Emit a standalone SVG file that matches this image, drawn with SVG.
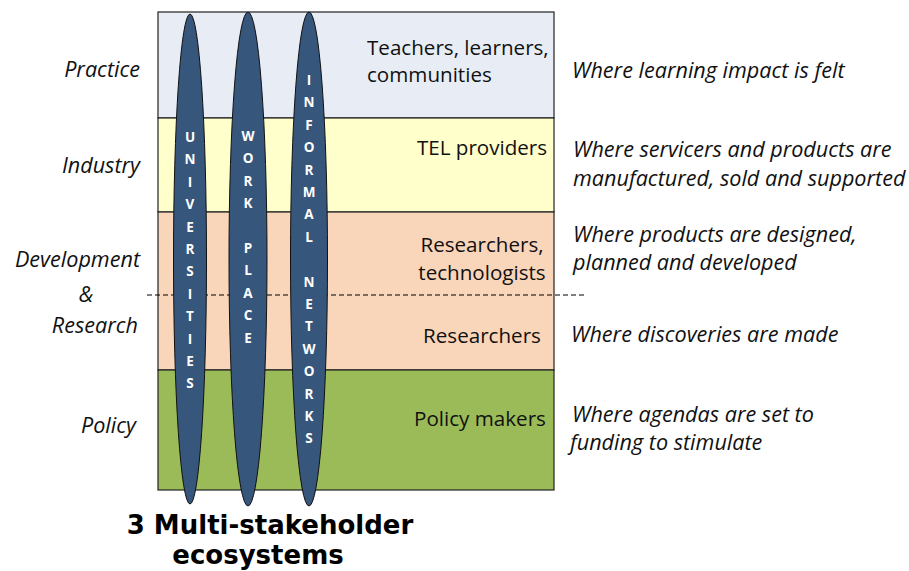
<svg xmlns="http://www.w3.org/2000/svg" width="909" height="571" viewBox="0 0 909 571">
  <style>
    .band { stroke: #222; stroke-width: 1.2; }
    .mid { font-family: "Open Sans", "Liberation Sans", sans-serif; font-size: 20.6px; fill: #111; text-anchor: middle; }
    .lvl { font-family: "Open Sans", "Liberation Sans", sans-serif; font-size: 21.6px; font-style: italic; fill: #111; text-anchor: end; }
    .desc { font-family: "Open Sans", "Liberation Sans", sans-serif; font-size: 21.6px; font-style: italic; fill: #111; }
    .eco { fill: #37567C; stroke: #111; stroke-width: 1; }
    .vl { font-family: "Open Sans", "Liberation Sans", sans-serif; font-size: 13.5px; font-weight: bold; fill: #fff; text-anchor: middle; }
    .title { font-family: "DejaVu Sans", "Verdana", sans-serif; font-size: 26px; font-weight: bold; fill: #000; text-anchor: middle; }
  </style>

  <rect width="909" height="571" fill="#fff"/>

  <!-- horizontal layers -->
  <g id="layer-practice">
    <rect class="band" x="158" y="12" width="396" height="106" fill="#E8ECF5"/>
    <text class="mid" x="367" y="55" style="text-anchor:start">Teachers, learners,</text>
    <text class="mid" x="367" y="82" style="text-anchor:start">communities</text>
  </g>
  <g id="layer-industry">
    <rect class="band" x="158" y="118" width="396" height="94" fill="#FFFFCC"/>
    <text class="mid" x="482" y="155">TEL providers</text>
  </g>
  <g id="layer-research">
    <rect class="band" x="158" y="212" width="396" height="158" fill="#F9D5B9"/>
    <text class="mid" x="482" y="252">Researchers,</text>
    <text class="mid" x="482" y="280">technologists</text>
    <text class="mid" x="482" y="343">Researchers</text>
  </g>
  <g id="layer-policy">
    <rect class="band" x="158" y="370" width="396" height="120" fill="#9BBB59"/>
    <text class="mid" x="480" y="426">Policy makers</text>
  </g>

  <!-- split between development and research -->
  <g id="connectors">
    <line x1="147" y1="295" x2="585" y2="295" stroke="#000" stroke-width="1" stroke-dasharray="5,3"/>
  </g>

  <!-- vertical ecosystems -->
  <g id="eco-universities">
    <ellipse class="eco" cx="190" cy="259" rx="16.5" ry="245"/>
    <text class="vl" x="190" y="142">U</text>
    <text class="vl" x="190" y="164.4">N</text>
    <text class="vl" x="190" y="186.8">I</text>
    <text class="vl" x="190" y="209.2">V</text>
    <text class="vl" x="190" y="231.6">E</text>
    <text class="vl" x="190" y="254">R</text>
    <text class="vl" x="190" y="276.4">S</text>
    <text class="vl" x="190" y="298.8">I</text>
    <text class="vl" x="190" y="321.2">T</text>
    <text class="vl" x="190" y="343.6">I</text>
    <text class="vl" x="190" y="366">E</text>
    <text class="vl" x="190" y="388.4">S</text>
  </g>
  <g id="eco-workplace">
    <ellipse class="eco" cx="248" cy="259" rx="19" ry="247"/>
    <text class="vl" x="248" y="141">W</text>
    <text class="vl" x="248" y="163.4">O</text>
    <text class="vl" x="248" y="185.8">R</text>
    <text class="vl" x="248" y="208.2">K</text>
    <text class="vl" x="248" y="253">P</text>
    <text class="vl" x="248" y="275.4">L</text>
    <text class="vl" x="248" y="297.8">A</text>
    <text class="vl" x="248" y="320.2">C</text>
    <text class="vl" x="248" y="342.6">E</text>
  </g>
  <g id="eco-informal-networks">
    <ellipse class="eco" cx="309" cy="259" rx="18.5" ry="247"/>
    <text class="vl" x="309" y="85">I</text>
    <text class="vl" x="309" y="107.4">N</text>
    <text class="vl" x="309" y="129.8">F</text>
    <text class="vl" x="309" y="152.2">O</text>
    <text class="vl" x="309" y="174.6">R</text>
    <text class="vl" x="309" y="197">M</text>
    <text class="vl" x="309" y="219.4">A</text>
    <text class="vl" x="309" y="241.8">L</text>
    <text class="vl" x="309" y="286.6">N</text>
    <text class="vl" x="309" y="309">E</text>
    <text class="vl" x="309" y="331.4">T</text>
    <text class="vl" x="309" y="353.8">W</text>
    <text class="vl" x="309" y="376.2">O</text>
    <text class="vl" x="309" y="398.6">R</text>
    <text class="vl" x="309" y="421">K</text>
    <text class="vl" x="309" y="443.4">S</text>
  </g>

  <!-- level names -->
  <g id="levels">
    <text class="lvl" x="140" y="77">Practice</text>
    <text class="lvl" x="140" y="173">Industry</text>
    <text class="lvl" x="140" y="267">Development</text>
    <text class="lvl" x="86" y="302" style="text-anchor:middle">&amp;</text>
    <text class="lvl" x="138" y="333">Research</text>
    <text class="lvl" x="136" y="433">Policy</text>
  </g>

  <!-- role of each level -->
  <g id="descriptions">
    <text class="desc" x="572" y="78">Where learning impact is felt</text>
    <text class="desc" x="573" y="157">Where servicers and products are</text>
    <text class="desc" x="573" y="186">manufactured, sold and supported</text>
    <text class="desc" x="573" y="242">Where products are designed,</text>
    <text class="desc" x="573" y="270">planned and developed</text>
    <text class="desc" x="571" y="342">Where discoveries are made</text>
    <text class="desc" x="572" y="422">Where agendas are set to</text>
    <text class="desc" x="570" y="450">funding to stimulate</text>
  </g>

  <g id="caption">
    <text class="title" x="270" y="534">3 Multi-stakeholder</text>
    <text class="title" x="258" y="564">ecosystems</text>
  </g>
</svg>
